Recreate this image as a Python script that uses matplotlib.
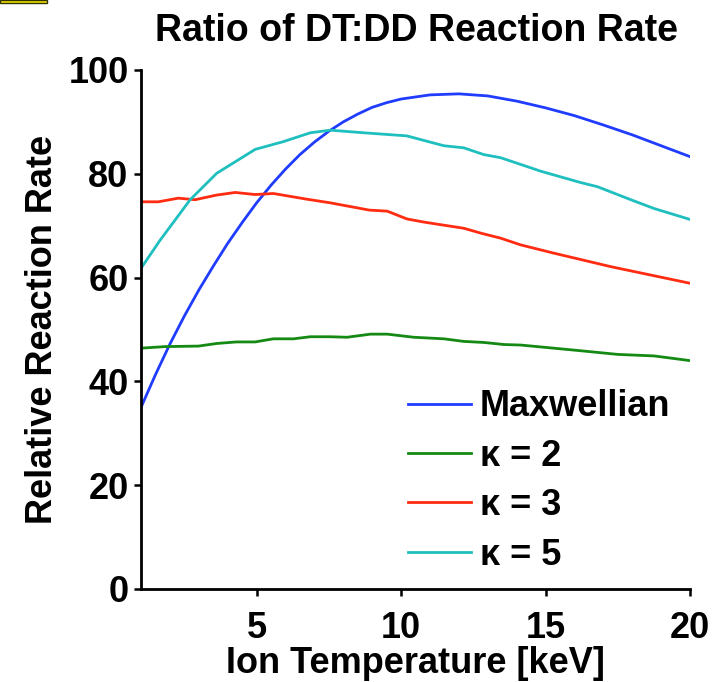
import matplotlib
matplotlib.use("Agg")
import matplotlib.pyplot as plt
from matplotlib.patches import Rectangle

plt.rcParams['font.family'] = ['Liberation Sans', 'DejaVu Sans']
plt.rcParams['font.weight'] = 'bold'
plt.rcParams['axes.labelweight'] = 'bold'

# Maxwellian DT:DD ratio vs ion temperature
temp_maxwell = [1, 1.5, 2, 2.5, 3, 3.5, 4, 4.5, 5, 5.5, 6, 6.5, 7, 7.5, 8, 8.5,
                9, 9.5, 10, 11, 12, 13, 14, 15, 16, 17, 18, 19, 20]
rate_maxwell = [35.0, 41.3, 47.2, 52.6, 57.6, 62.2, 66.6, 70.6, 74.4, 77.8,
                80.9, 83.7, 86.1, 88.2, 90.0, 91.5, 92.8, 93.7, 94.4, 95.2,
                95.4, 95.0, 94.0, 92.7, 91.2, 89.4, 87.5, 85.4, 83.3]

# kappa = 2
temp_k2 = [1, 1.83, 2.99, 3.62, 4.3, 4.95, 5.58, 6.28, 6.86, 7.55, 8.13, 8.94,
           9.52, 10.44, 11.48, 12.17, 12.86, 13.56, 14.14, 16.22, 17.49, 18.76, 20]
rate_k2 = [46.4, 46.7, 46.8, 47.3, 47.6, 47.6, 48.2, 48.2, 48.6, 48.6, 48.5, 49.1,
           49.1, 48.5, 48.2, 47.7, 47.5, 47.1, 47.0, 45.9, 45.2, 44.9, 44.0]

# kappa = 3
temp_k3 = [1, 1.6, 2.29, 2.87, 3.62, 4.26, 4.95, 5.58, 6.74, 7.55, 8.9, 9.52,
           10.2, 10.78, 12.17, 12.8, 13.44, 14.14, 15.29, 17.26, 20]
rate_k3 = [74.6, 74.6, 75.3, 75.0, 75.9, 76.4, 76.0, 76.2, 75.1, 74.4, 73.0, 72.8,
           71.3, 70.7, 69.5, 68.5, 67.6, 66.3, 64.7, 62.1, 58.9]

# kappa = 5
temp_k5 = [1, 1.66, 2.7, 3.62, 4.95, 5.93, 6.86, 7.55, 8.7, 10.2, 11.48, 12.17,
           12.86, 13.44, 14.14, 14.83, 16.22, 16.8, 17.95, 18.76, 20]
rate_k5 = [61.8, 67.2, 75.0, 80.1, 84.7, 86.2, 87.9, 88.4, 87.9, 87.3, 85.4, 85.0,
           83.7, 83.1, 81.8, 80.5, 78.3, 77.5, 75.0, 73.3, 71.2]

fig = plt.figure(figsize=(7.17, 6.82), dpi=100)
ax = fig.add_axes([0.1967, 0.1364, 0.7657, 0.7610])

lw = 2.0
ax.plot(temp_maxwell, rate_maxwell, color='#1f3cff', lw=lw, label='Maxwellian')
ax.plot(temp_k2, rate_k2, color='#148a14', lw=lw, label='κ = 2')
ax.plot(temp_k3, rate_k3, color='#ff2c12', lw=lw, label='κ = 3')
ax.plot(temp_k5, rate_k5, color='#1fbfbf', lw=lw, label='κ = 5')

ax.set_xlim(1, 20)
ax.set_ylim(0, 100)
ax.set_xticks([5, 10, 15, 20])
ax.set_yticks([0, 20, 40, 60, 80, 100])

for side in ['top', 'right']:
    ax.spines[side].set_visible(False)
for side in ['left', 'bottom']:
    ax.spines[side].set_linewidth(2)
ax.tick_params(direction='out', length=5, width=1.8, labelsize=26)
ax.tick_params(axis='x', pad=11)
ax.tick_params(axis='y', pad=4)

ax.set_xlabel('Ion Temperature [keV]', fontsize=26, labelpad=0)
ax.set_ylabel('Relative Reaction Rate', fontsize=26, labelpad=6)
fig.text(0.581, 0.955, 'Ratio of DT:DD Reaction Rate', fontsize=27,
         ha='center', va='center')

leg = ax.legend(loc='lower right', bbox_to_anchor=(1.01, -0.017), frameon=False,
                fontsize=26, handlelength=1.75, handletextpad=0.25,
                labelspacing=0.40, borderpad=0.2)

# small marker box in the top-left corner
fig.patches.append(Rectangle((0, 1 - 3 / 682), 47 / 717, 3 / 682,
                             transform=fig.transFigure, facecolor='#f2e600',
                             edgecolor='#333300', lw=1))

fig.savefig('out.png', dpi=100, facecolor='white')
